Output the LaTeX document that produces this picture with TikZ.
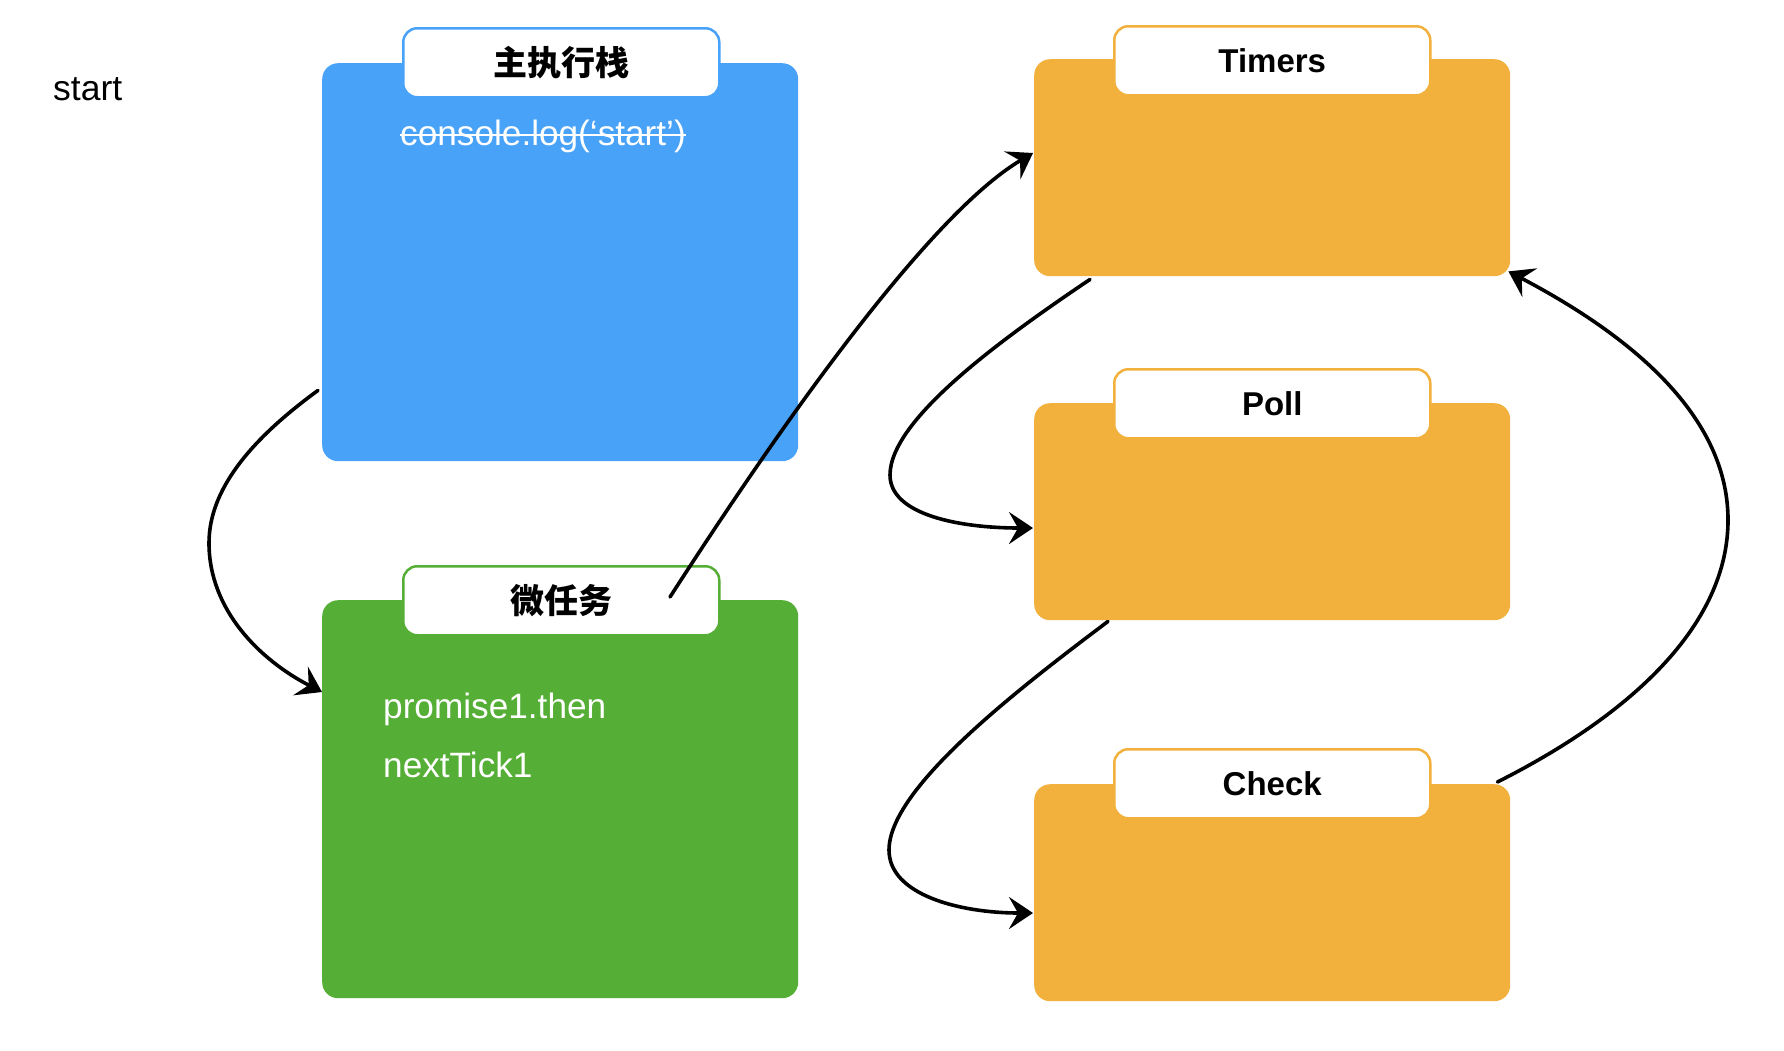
\documentclass[tikz,border=0pt]{standalone}
\usepackage{fontspec}
\setmainfont{Liberation Sans}
\newfontfamily\cjk{Noto Sans CJK SC}
\usetikzlibrary{arrows.meta}
\definecolor{cblue}{HTML}{47A2F8}
\definecolor{cgreen}{HTML}{55AE35}
\definecolor{corange}{HTML}{F2B03D}
\begin{document}
\begin{tikzpicture}[x=1pt,y=-1pt,
  box/.style={rectangle, rounded corners=16pt, anchor=north west, inner sep=0pt, minimum width=476pt},
  tabbox/.style={rectangle, rounded corners=14pt, fill=white, line width=2.5pt, anchor=north west, inner sep=0pt,
     minimum width=316pt, minimum height=69pt, font=\fontsize{33}{40}\selectfont\bfseries},
  body/.style={text=white, font=\fontsize{35.2}{40}\selectfont, anchor=base west, inner sep=0pt},
  flow/.style={draw=black, line width=3.6pt, line cap=round, -{Stealth[length=24pt,width=32pt,inset=9pt]}},
]
\useasboundingbox[fill=white] (0,0) rectangle (1784,1050);

% start label
\node[anchor=base west, inner sep=0pt, font=\fontsize{35.5}{40}\selectfont] (startlbl) at (53,100) {start};

% main stack
\node[box, fill=cblue, minimum height=398pt] (main) at (322,63) {};
\node[tabbox, draw=cblue] (maintab) at (402,27) {\cjk\bfseries\fontsize{34}{40}\selectfont 主执行栈};
\node[body] (cl) at (400,145) {console.log(‘start’)};
\draw[white, line width=2.5pt] ([yshift=10pt]cl.base west) -- ([yshift=10pt]cl.base east);

% micro tasks
\node[box, fill=cgreen, minimum height=398pt] (micro) at (322,600) {};
\node[tabbox, draw=cgreen] (microtab) at (402,565) {\cjk\bfseries\fontsize{34}{40}\selectfont 微任务};
\node[body] (p1) at (383,718) {promise1.then};
\node[body] (nt1) at (383,777) {nextTick1};

% phases
\node[box, fill=corange, minimum height=217pt] (timers) at (1034,59) {};
\node[tabbox, draw=corange] (timerstab) at (1113,25) {Timers};
\node[box, fill=corange, minimum height=217pt] (poll) at (1034,403) {};
\node[tabbox, draw=corange] (polltab) at (1113,368) {Poll};
\node[box, fill=corange, minimum height=217pt] (check) at (1034,784) {};
\node[tabbox, draw=corange] (checktab) at (1113,748) {Check};

% connector end points
\coordinate (a1s) at ([shift={(-4pt,71pt)}]main.south west);
\coordinate (a1e) at ([yshift=-92pt]micro.north west);
\coordinate (a2s) at ([shift={(268pt,-32pt)}]microtab.north west);
\coordinate (a2e) at ([shift={(-1pt,-94pt)}]timers.north west);
\coordinate (a3s) at ([shift={(56pt,-3pt)}]timers.south west);
\coordinate (a3e) at ([shift={(-1pt,-125pt)}]poll.north west);
\coordinate (a4s) at ([shift={(74pt,-1pt)}]poll.south west);
\coordinate (a4e) at ([shift={(-1pt,-129pt)}]check.north west);
\coordinate (a5s) at ([shift={(-13pt,2pt)}]check.north east);
\coordinate (a5e) at ([shift={(-2pt,5pt)}]timers.south east);

% connectors
\draw[flow] (a1s) .. controls (250,440) and (209,490) .. (209,543)
               .. controls (209,610) and (260,660) .. (a1e);
\draw[flow] (a2s) .. controls (755,465) and (920,220) .. (a2e);
\draw[flow] (a3s) .. controls (1000,340) and (890,420) .. (890,475)
               .. controls (890,515) and (960,528) .. (a3e);
\draw[flow] (a4s) .. controls (1010,695) and (889,790) .. (889,850)
               .. controls (889,895) and (960,913) .. (a4e);
\draw[flow] (a5s) .. controls (1640,710) and (1728,620) .. (1728,520)
               .. controls (1728,410) and (1620,330) .. (a5e);
\end{tikzpicture}
\end{document}
